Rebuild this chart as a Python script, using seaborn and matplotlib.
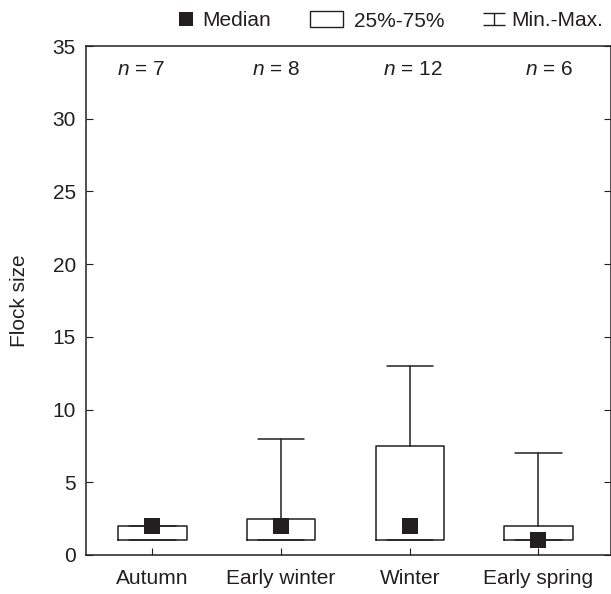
import matplotlib
matplotlib.use("Agg")
import matplotlib.pyplot as plt
import seaborn as sns
import pandas as pd
from matplotlib.lines import Line2D
from matplotlib.patches import Rectangle
from matplotlib.path import Path

# values
seasons = ["Autumn", "Early winter", "Winter", "Early spring"]
mins = [1, 1, 1, 1]
q1 = [1, 1, 1, 1]
medians = [2, 2, 2, 1]
q3 = [2, 2.5, 7.5, 2]
maxs = [2, 8, 13, 7]
n_obs = [7, 8, 12, 6]

sns.set_style("ticks")
plt.rcParams['font.family'] = ['Liberation Sans', 'DejaVu Sans']
plt.rcParams['mathtext.fontset'] = 'custom'
plt.rcParams['mathtext.it'] = 'Liberation Sans:italic'
plt.rcParams['mathtext.rm'] = 'Liberation Sans'

ink = '#231f20'
fs = 15
W, H = 611, 594

fig = plt.figure(figsize=(W / 100, H / 100), dpi=100)
ax = fig.add_axes([85.5 / W, 39 / H, 525 / W, 509 / H])

#Building box stats from the arrays and drawing them
stats = []
for i in range(len(seasons)):
    stats.append({'whislo': mins[i], 'q1': q1[i], 'med': medians[i],
                  'q3': q3[i], 'whishi': maxs[i], 'label': seasons[i]})
ax.bxp(stats, positions=range(len(seasons)), widths=0.53, showfliers=False,
       boxprops=dict(color=ink, linewidth=1.1),
       whiskerprops=dict(color=ink, linewidth=1.1),
       capprops=dict(color=ink, linewidth=1.1),
       medianprops=dict(linewidth=0),
       capwidths=0.36)

#Median squares with seaborn
med_df = pd.DataFrame({'pos': range(len(seasons)), 'Median': medians})
sns.scatterplot(data=med_df, x='pos', y='Median', marker='s', s=117,
                color=ink, edgecolor=ink, linewidth=0, zorder=5, ax=ax)

#n labels sit slightly off the box centres in the original
n_shift = [-0.085, -0.037, 0.02, 0.085]
for i, n in enumerate(n_obs):
    ax.text(i + n_shift[i], 33.4, r"$n$ = %d" % n, ha='center', va='center',
            fontsize=fs, color=ink)

ax.set_xlim(-0.52, 3.56)
ax.set_ylim(0, 35)
ax.set_yticks(range(0, 36, 5))
ax.set_xticks(range(len(seasons)))
ax.set_xticklabels(seasons)
ax.set_xlabel('')
ax.set_ylabel('Flock size', fontsize=fs, color=ink, labelpad=17)
ax.tick_params(axis='y', direction='in', right=True, length=5, labelsize=fs, colors=ink, pad=7)
ax.tick_params(axis='x', direction='in', length=5, labelsize=fs, colors=ink, pad=10)
for s in ax.spines.values():
    s.set_visible(True)
    s.set_color(ink)
    s.set_linewidth(1.1)

#Custom legend, one small legend per item so each keeps its own spacing
whisk = Path([(-1, 0.56), (1, 0.56), (0, 0.56), (0, -0.56), (-1, -0.56), (1, -0.56)],
             [Path.MOVETO, Path.LINETO, Path.MOVETO, Path.LINETO, Path.MOVETO, Path.LINETO])
em = fs / 72 * 100
items = [
    (Line2D([], [], marker='s', color=ink, linestyle='none', markersize=10,
            markeredgewidth=0), 'Median', 178, 15, 0.42, 0.7),
    (Rectangle((0, 0), 1, 1, facecolor='white', edgecolor=ink, linewidth=1),
     '25%-75%', 310, 33, 0.52, 0.78),
    (Line2D([], [], marker=whisk, color=ink, linestyle='none', markersize=16.5,
            markeredgewidth=1, markerfacecolor='none'), 'Min.-Max.', 482, 23, 0.3, 0.7),
]
for handle, label, x0, wpx, tpad, hh in items:
    leg = fig.legend([handle], [label], loc='center left', frameon=False,
                     bbox_to_anchor=(x0 / W, 1 - 21 / H), borderaxespad=0, borderpad=0,
                     fontsize=fs, handlelength=wpx / em, handleheight=hh,
                     handletextpad=tpad)
    for t in leg.get_texts():
        t.set_color(ink)

fig.savefig('out.png', dpi=100)
